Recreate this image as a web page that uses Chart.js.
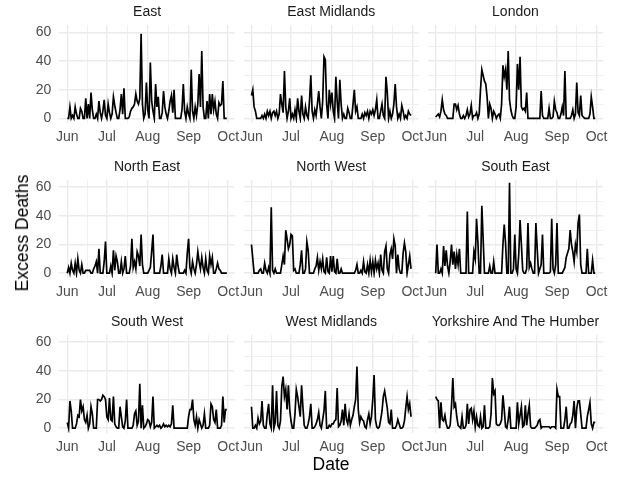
<!DOCTYPE html>
<html><head><meta charset="utf-8">
<script src="https://cdn.jsdelivr.net/npm/chart.js@4.4.1/dist/chart.umd.min.js"></script>
<style>
html,body{margin:0;padding:0;background:#fff;width:631px;height:477px;overflow:hidden;font-family:"Liberation Sans",Arial,sans-serif;}
#wrap{position:relative;width:631px;height:477px;}
canvas{position:absolute;}
.strip{position:absolute;font-size:14px;color:#1a1a1a;line-height:16px;white-space:nowrap;transform:translate(-50%,-50%);}
.axt{position:absolute;font-size:17.5px;color:#000;line-height:20px;white-space:nowrap;}
</style></head><body><div id="wrap"></div>
<script>
// ---- data (daily values, 1 June .. 30 September) ----
const regionNames = ['East','East Midlands','London','North East','North West','South East','South West','West Midlands','Yorkshire And The Humber'];
const monthTicks = [0,30,61,92,122];
const monthLabels = ['Jun','Jul','Aug','Sep','Oct'];
const minorXTicks = [15,45.5,76.5,107];
const yTicks = [0,20,40,60];
const minorYTicks = [10,30,50];

const east = [0,0,8,0,2,0,8,3,0,0,7,5,0,0,14,0,10,0,18,6,0,0,3,0,12,4,0,5,13,2,0,10,4,0,3,15,9,4,0,0,6,17,3,21,0,0,0,1,5,7,8,10,17,12,10,14,59,10,0,3,25,6,0,39,12,5,0,24,8,15,0,0,4,19,8,3,0,5,12,16,4,20,0,0,0,0,0,6,24,5,0,8,3,0,34,5,0,8,2,10,31,8,47,8,0,0,12,0,17,3,17,6,12,3,0,11,9,10,26,0,0,0];
const eastMidlands = [16,20,8,5,0,0,0,0,2,0,3,0,5,2,5,0,4,5,2,5,0,3,17,10,4,33,8,0,5,14,0,3,0,6,0,14,5,0,16,3,0,8,2,0,12,30,5,0,6,2,10,19,8,0,12,43,41,10,0,20,10,18,5,0,29,12,0,27,10,0,3,0,0,7,4,0,0,10,20,5,8,0,0,0,3,0,4,2,5,0,5,3,6,2,6,13,0,0,5,10,2,0,29,18,0,5,0,3,10,24,8,0,3,0,9,5,0,2,0,5,3,2];
const london = [1,2,3,1,5,13,6,3,2,0,0,0,0,0,10,10,6,9,3,0,0,2,0,2,6,1,3,9,0,2,2,4,0,3,20,34,30,26,24,15,0,10,7,0,5,3,0,2,3,0,10,37,29,34,20,47,13,6,2,0,0,8,38,20,43,8,6,7,5,18,0,0,0,0,0,0,0,0,0,0,19,2,0,0,0,0,7,0,0,1,12,6,4,0,0,3,8,2,33,0,0,0,0,2,6,0,3,25,4,2,16,2,1,0,0,0,0,3,15,8,0,0];
const northEast = [0,4,0,7,2,0,7,0,10,2,0,6,0,0,2,2,2,2,0,0,3,5,8,0,17,0,0,0,8,22,0,0,0,5,0,16,2,12,8,0,0,8,0,3,12,0,0,0,5,24,4,8,3,15,12,5,27,6,0,0,0,0,2,4,15,27,0,0,0,0,0,5,13,0,0,0,0,10,3,0,10,4,0,13,5,0,0,0,0,2,0,14,24,4,0,8,3,0,6,15,8,3,11,4,0,10,2,0,12,6,11,0,0,3,7,3,2,0,0,0,0,0];
const northWest = [20,10,0,0,0,0,2,3,0,0,7,2,0,4,0,46,2,0,3,0,0,0,0,6,12,6,30,24,17,20,27,26,2,3,0,0,0,6,16,0,0,3,22,16,0,0,0,0,3,5,11,2,8,3,10,1,0,11,1,0,12,1,12,1,0,10,0,0,3,0,0,0,0,0,0,0,0,0,0,2,6,0,0,2,0,8,1,0,6,0,9,1,8,0,9,3,7,0,13,2,0,15,19,3,0,13,17,10,24,19,0,13,3,0,0,14,21,15,0,6,12,3];
const southEast = [0,20,0,0,3,0,19,5,16,5,0,8,20,6,15,3,13,6,17,0,0,0,0,0,43,0,0,0,0,15,10,38,22,0,0,47,24,0,0,0,0,5,0,0,8,0,0,0,0,0,0,20,34,21,0,0,63,0,0,3,27,3,0,13,37,20,2,0,0,3,35,4,7,3,0,0,35,17,0,3,6,27,0,0,0,0,0,1,38,3,0,6,35,0,0,0,0,2,4,11,14,17,30,20,15,8,20,15,35,41,6,0,0,0,0,17,0,0,0,9,0,0];
const southWest = [4,0,19,12,0,0,0,3,9,8,20,12,15,6,4,9,0,3,15,10,0,0,0,20,20,19,20,23,22,20,8,6,21,6,5,22,3,1,0,0,15,8,1,0,5,20,0,0,0,0,2,10,12,2,5,31,0,16,0,1,3,6,5,1,4,22,0,1,2,1,2,0,1,3,1,2,1,2,1,3,16,0,0,0,0,0,0,0,0,0,0,0,8,13,13,20,6,2,8,0,6,3,0,2,10,0,0,0,2,17,15,6,4,13,0,0,0,2,22,4,13,13];
const westMidlands = [15,0,0,2,0,7,3,5,19,2,0,0,10,17,3,0,30,0,4,26,2,0,5,29,36,22,27,13,30,13,5,0,0,10,27,22,15,8,30,15,2,0,0,3,8,17,0,0,1,3,6,11,2,0,6,12,26,0,0,2,1,3,3,5,6,28,1,2,5,13,2,17,6,3,10,2,6,9,15,20,43,13,4,8,6,5,1,0,6,10,3,8,20,37,6,1,0,1,6,12,22,26,20,14,4,3,13,0,0,0,2,6,3,0,0,1,5,14,22,13,17,8];
const yorkshire = [22,20,19,0,18,6,5,9,3,0,0,2,15,35,15,17,8,2,1,0,8,0,0,2,17,3,13,14,6,12,1,8,2,1,8,0,1,16,0,0,0,1,10,35,24,26,3,2,2,3,6,23,13,1,0,6,15,0,0,0,0,0,18,3,9,15,1,2,16,2,10,16,1,0,0,0,1,2,5,6,0,1,1,1,1,1,1,0,1,1,1,0,27,22,22,0,0,0,6,15,0,0,3,4,9,19,0,14,19,19,10,0,0,0,0,8,13,18,3,0,4,4];

const seriesList = [east, eastMidlands, london, northEast, northWest, southEast, southWest, westMidlands, yorkshire];

// ---- layout ----
const colLeft = [59.3, 243.5, 427.7];
const rowTop = [25, 179.8, 334.8];
const panelW = 175.5, panelH = 97.9;
const stripY = [11, 166, 321];
const xMin = -6.05, xMax = 127.05, yMin = -3.15, yMax = 65.15;

const wrap = document.getElementById('wrap');
const FONT = '"Liberation Sans", Arial, sans-serif';

function isIn(arr, v){ return arr.some(a => Math.abs(a - v) < 1e-6); }

seriesList.forEach((vals, idx) => {
  const col = idx % 3, row = Math.floor(idx / 3);
  const yAxisW = col === 0 ? 44 : 0;
  const padL = col === 0 ? 50 : 16, padR = 18, padT = 24, xAxisH = 26, canvasH = 170;
  const cLeft = Math.floor(colLeft[col]) - padL;
  const cTop = Math.floor(rowTop[row]) - padT;
  const lp = colLeft[col] - cLeft;
  const tp = rowTop[row] - cTop;
  const cW = Math.ceil(lp + panelW + padR);
  const rp = cW - lp - panelW;
  const bp = canvasH - tp - panelH - xAxisH;

  const cv = document.createElement('canvas');
  cv.width = cW; cv.height = canvasH;
  cv.style.left = cLeft + 'px'; cv.style.top = cTop + 'px';
  cv.style.width = cW + 'px'; cv.style.height = canvasH + 'px';
  wrap.appendChild(cv);

  const strip = document.createElement('div');
  strip.className = 'strip';
  strip.textContent = regionNames[idx];
  strip.style.left = (colLeft[col] + panelW / 2) + 'px';
  strip.style.top = stripY[row] + 'px';
  wrap.appendChild(strip);

  new Chart(cv, {
    type: 'line',
    data: { datasets: [{
      data: vals.map((v, i) => ({ x: i, y: v })),
      borderColor: '#000', borderWidth: 1.7, pointRadius: 0, tension: 0, fill: false
    }]},
    options: {
      responsive: false, animation: false, devicePixelRatio: 1,
      layout: { padding: { left: lp - yAxisW, right: rp, top: tp, bottom: bp } },
      plugins: { legend: { display: false }, title: { display: false }, tooltip: { enabled: false } },
      scales: {
        x: {
          type: 'linear', min: xMin, max: xMax,
          afterBuildTicks: s => { s.ticks = monthTicks.concat(minorXTicks).sort((a,b)=>a-b).map(v => ({ value: v })); },
          afterFit: s => { s.height = xAxisH; },
          border: { display: false },
          grid: { drawTicks: false, color: '#ebebeb',
                  lineWidth: c => isIn(monthTicks, c.tick.value) ? 1.4 : 0.7 },
          ticks: { autoSkip: false, maxRotation: 0, padding: 6, color: '#4d4d4d',
                   font: { family: FONT, size: 14 },
                   callback: v => { const k = monthTicks.findIndex(m => Math.abs(m - v) < 1e-6); return k >= 0 ? monthLabels[k] : ''; } }
        },
        y: {
          type: 'linear', min: yMin, max: yMax,
          afterBuildTicks: s => { s.ticks = yTicks.concat(minorYTicks).sort((a,b)=>a-b).map(v => ({ value: v })); },
          afterFit: s => { s.width = yAxisW; },
          border: { display: false },
          grid: { drawTicks: false, color: '#ebebeb',
                  lineWidth: c => isIn(yTicks, c.tick.value) ? 1.4 : 0.7 },
          ticks: { display: col === 0, padding: 8, color: '#4d4d4d',
                   font: { family: FONT, size: 14 },
                   callback: v => isIn(yTicks, v) ? String(v) : '' }
        }
      }
    }
  });
});

const yt = document.createElement('div');
yt.className = 'axt'; yt.textContent = 'Excess Deaths';
yt.style.left = '21.7px'; yt.style.top = '233px';
yt.style.transform = 'translate(-50%,-50%) rotate(-90deg)';
wrap.appendChild(yt);

const xt = document.createElement('div');
xt.className = 'axt'; xt.textContent = 'Date';
xt.style.left = '331px'; xt.style.top = '464px';
xt.style.transform = 'translate(-50%,-50%)';
wrap.appendChild(xt);
</script></body></html>
